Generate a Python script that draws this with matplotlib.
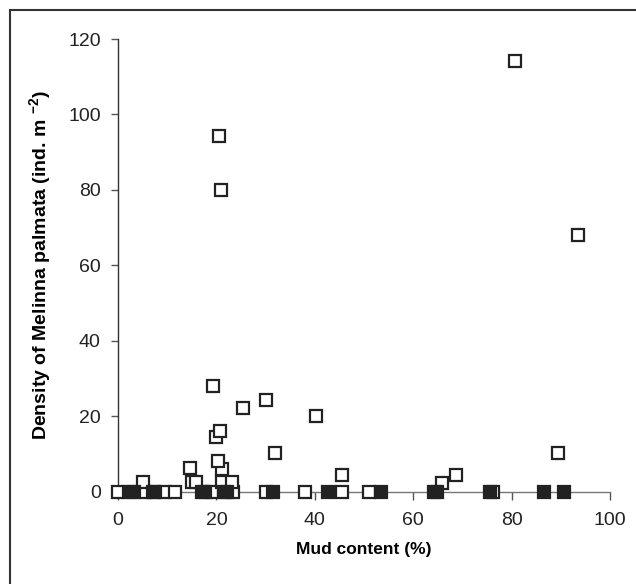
import matplotlib
matplotlib.use("Agg")
import matplotlib.pyplot as plt
from matplotlib.patches import Rectangle

plt.rcParams['font.family'] = ['Liberation Sans', 'DejaVu Sans']
plt.rcParams['mathtext.fontset'] = 'custom'
plt.rcParams['mathtext.rm'] = 'Liberation Sans:bold'
plt.rcParams['mathtext.bf'] = 'Liberation Sans:bold'

# open squares (mud %, density)
open_x = [0.1, 5.5, 9.6, 11.6, 19.2, 23.4, 30.0, 38.0, 45.6, 51.1, 76.3,
          5.0, 15.0, 15.9, 21.2, 23.2, 65.8,
          45.5, 68.7, 14.7, 21.2, 20.4, 32.0, 89.5,
          19.9, 20.7, 40.2, 25.5, 30.0, 19.4,
          21.0, 20.6, 93.5, 80.6]
open_y = [0, 0, 0, 0, 0, 0, 0, 0, 0, 0, 0,
          2.4, 2.4, 2.4, 2.4, 2.4, 2.2,
          4.3, 4.3, 6.1, 6.0, 8.1, 10.1, 10.2,
          14.4, 16.0, 20.1, 22.2, 24.3, 28.1,
          80.0, 94.3, 68.0, 114.2]

# filled squares, all zero density
filled_x = [2.3, 3.2, 7.2, 7.6, 17.0, 17.7, 21.5, 22.2, 31.6, 42.7,
            53.5, 64.2, 64.8, 75.6, 86.6, 90.6]
filled_y = [0] * len(filled_x)

xticks = [0, 20, 40, 60, 80, 100]
yticks = [0, 20, 40, 60, 80, 100, 120]

fig = plt.figure(figsize=(6.36, 5.84), dpi=100)
ax = fig.add_axes([118/636, 92.5/584, (610-118)/636, (545-92.5)/584])

ax.plot(open_x, open_y, 's', ms=8.2, mfc='white', mec='#222222', mew=1.6,
        clip_on=False, zorder=3)
ax.plot(filled_x, filled_y, 's', ms=8.2, mfc='#222222', mec='#222222', mew=1.6,
        clip_on=False, zorder=4)

ax.set_xlim(0, 100)
ax.set_ylim(0, 120)
ax.set_xticks(xticks)
ax.set_yticks(yticks)

for s in ['top', 'right']:
    ax.spines[s].set_visible(False)
ax.spines['left'].set_color('#333333')
ax.spines['bottom'].set_color('#777777')
ax.spines['left'].set_linewidth(1.0)
ax.spines['bottom'].set_linewidth(1.0)
ax.tick_params(axis='y', direction='out', length=5, width=1, color='#555555',
               labelsize=14, pad=7.5, labelcolor='#222222')
ax.tick_params(axis='x', direction='out', length=6, width=1, color='#555555',
               labelsize=14, pad=9, labelcolor='#222222')

ax.set_xlabel('Mud content (%)', fontsize=12.5, fontweight='bold', labelpad=9)
ax.set_ylabel(r'Density of Melinna palmata (ind. m $^{-2}$)', fontsize=14,
              fontweight='bold', labelpad=10)

fig.patches.append(Rectangle((10/636, -0.05), 1.1, (574/584) + 0.05,
                             transform=fig.transFigure, fill=False,
                             ec='#333333', lw=1.5))

fig.savefig('out.png', dpi=100)
